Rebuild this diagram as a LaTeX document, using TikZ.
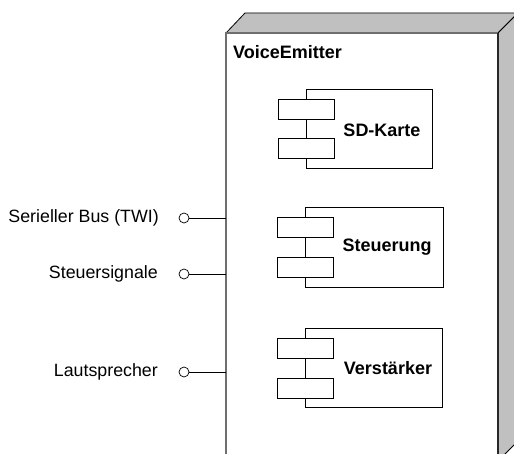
\documentclass[tikz,border=0pt]{standalone}
\usepackage{fontspec}
\setmainfont{Liberation Sans}
\begin{document}
\begin{tikzpicture}[x=1pt,y=-1pt,
  lbl/.style={font=\fontsize{17.8}{20}\selectfont, inner sep=0pt},
  blbl/.style={font=\fontsize{18}{20}\selectfont\bfseries, inner sep=0pt},
  compbox/.style={draw=black, fill=white, line width=0.8pt},
  portbox/.style={draw=black, fill=white, line width=0.8pt, inner sep=0pt, minimum width=56pt, minimum height=20pt},
  iface/.style={circle, draw=black, fill=white, line width=0.7pt, inner sep=0pt, minimum size=10pt},
  conn/.style={draw=black, line width=0.8pt},
  shade/.style={fill={rgb,255:red,192;green,192;blue,192}, draw=black, line width=0.8pt}]
\useasboundingbox (0,0) rectangle (514,454);
\clip (0,0) rectangle (514,454);
\fill[white] (0,0) rectangle (514,454);
% node (3D box)
\path[shade] (226,33) -- (245,13) -- (518,13) -- (498,33) -- cycle;
\path[shade] (498,33) -- (518,13) -- (518,441) -- (498,461) -- cycle;
\path[fill=white] (226,33) rectangle (498,470);
\draw[line width=1.6pt, draw={rgb,255:red,110;green,110;blue,110}] (226,470) -- (226,33) -- (498,33);
\draw[line width=1.2pt, draw={rgb,255:red,40;green,40;blue,40}] (498,33) -- (498,470);
\node[blbl, anchor=west] (title) at (233,52) {VoiceEmitter};
% SD-Karte
\node[compbox, minimum width=126pt, minimum height=79pt, inner sep=0pt] (sd) at (369,128.5) {};
\node[portbox] (sdp1) at (306,109) {};
\node[portbox] (sdp2) at (306,148) {};
\node[blbl] (sdl) at (382,130) {SD-Karte};
% Steuerung
\node[compbox, minimum width=138pt, minimum height=80pt, inner sep=0pt] (st) at (374,247) {};
\node[portbox] (stp1) at (305,227) {};
\node[portbox] (stp2) at (305,267) {};
\node[blbl] (stl) at (387,247) {Steuerung};
% Verstaerker
\node[compbox, minimum width=137pt, minimum height=79pt, inner sep=0pt] (vs) at (373.5,367.5) {};
\node[portbox] (vsp1) at (305,348) {};
\node[portbox] (vsp2) at (305,388) {};
\node[blbl] (vsl) at (388,368) {Verstärker};
% interfaces
\coordinate (e1) at (226,218);
\coordinate (e2) at (226,274);
\coordinate (e3) at (226,372);
\node[iface] (i1) at (184,218) {};
\node[iface] (i2) at (184,274) {};
\node[iface] (i3) at (184,372) {};
\draw[conn] (i1.east) -- (e1);
\draw[conn] (i2.east) -- (e2);
\draw[conn] (i3.east) -- (e3);
\node[lbl, anchor=east] (l1) at (159,218) {Serieller Bus (TWI)};
\node[lbl, anchor=east] (l2) at (158,274) {Steuersignale};
\node[lbl, anchor=east] (l3) at (158,372) {Lautsprecher};
\end{tikzpicture}
\end{document}
